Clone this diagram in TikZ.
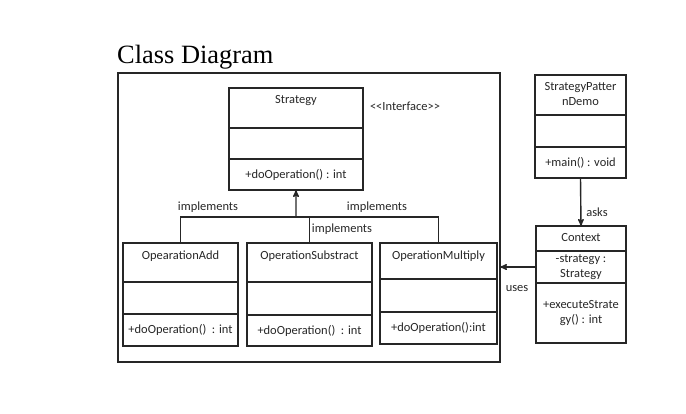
\documentclass[tikz,border=0pt]{standalone}
\usepackage{fontspec}
\setmainfont{Carlito}
\newfontfamily\titlefont{Liberation Serif}
\usetikzlibrary{arrows,positioning}

\begin{document}
\begin{tikzpicture}[>=stealth',x=1bp,y={(0bp,-1bp)},font=\fontsize{12.5}{15}\selectfont,text=black!85]
		\tikzstyle{part}=[draw=black!85,line width=1.4bp,inner sep=0pt,outer sep=0pt,align=center]
		\tikzstyle{cname}=[anchor=north,inner sep=0pt,yshift=-7.5bp,align=center]
		\tikzstyle{line}=[draw=black!85,line width=1.4bp]
		\useasboundingbox (0,0) rectangle (686,413);
		\node[anchor=base west,inner sep=0pt,font=\titlefont\fontsize{26.5}{30}\selectfont,text=black] (T) at (117,63) {Class Diagram};
		\node[part,anchor=north west,minimum width=382bp,minimum height=289bp] (F) at (118,73) {};
		% interface
		\node[part,anchor=north west,minimum width=134bp,minimum height=40bp] (S1) at (229,88) {};
		\node[part,minimum width=134bp,minimum height=31bp]    (S2)[below=0pt of S1] {};
		\node[part,minimum width=134bp,minimum height=31bp]    (S3)[below=0pt of S2] {+doOperation() : int};
		\node[cname] (S) at (S1.north) {Strategy};
		\node (I) at (405,106) {{<}{<}Interface{>}{>}};
		% implementations
		\node[part,anchor=north west,minimum width=115bp,minimum height=39bp] (A1) at (123,243) {};
		\node[part,minimum width=115bp,minimum height=32bp]    (A2)[below=0pt of A1] {};
		\node[part,minimum width=115bp,minimum height=32bp]    (A3)[below=0pt of A2] {+doOperation() \ : int};
		\node[cname] (A) at (A1.north) {OpearationAdd};
		\node[part,anchor=north west,minimum width=125bp,minimum height=39bp] (B1) at (247,243) {};
		\node[part,minimum width=125bp,minimum height=33bp]    (B2)[below=0pt of B1] {};
		\node[part,minimum width=125bp,minimum height=31bp]    (B3)[below=0pt of B2] {+doOperation() \ : int};
		\node[cname] (B) at (B1.north) {OperationSubstract};
		\node[part,anchor=north west,minimum width=117bp,minimum height=36bp] (C1) at (380,243) {};
		\node[part,minimum width=117bp,minimum height=33bp]    (C2)[below=0pt of C1] {};
		\node[part,minimum width=117bp,minimum height=32bp]    (C3)[below=0pt of C2] {+doOperation():int};
		\node[cname] (C) at (C1.north) {OperationMultiply};
		% client side
		\node[part,anchor=north west,minimum width=91bp,minimum height=40bp] (D1) at (535,75) {};
		\node[part,minimum width=91bp,minimum height=32bp]     (D2)[below=0pt of D1] {};
		\node[part,minimum width=91bp,minimum height=31bp]     (D3)[below=0pt of D2] {+main() : void};
		\node[cname] (D) at (D1.north) {StrategyPatter\\nDemo};
		\node[part,anchor=north west,minimum width=90bp,minimum height=25bp] (X1) at (536,226) {};
		\node[part,minimum width=90bp,minimum height=32bp]     (X2)[below=0pt of X1] {-strategy :\\Strategy};
		\node[part,minimum width=90bp,minimum height=60bp]     (X3)[below=0pt of X2] {+executeStrate\\gy() : int};
		\node[cname] (X) at (X1.north) {Context};
		% connectors
		\coordinate (H) at (296,217);
		\path[line]
		(A1.north) |- (C1.north |- H) -- (C1.north)
		(B1.north) -- (B1.north |- H);
		\draw[line,->] (H) -- (S3.south);
		\draw[line,->] (D3.south) -- (X1.north);
		\draw[line,->] (X2.west) -- (X2.west -| F.east);
		\node (L1) at (208,207) {implements};
		\node (L2) at (377,207) {implements};
		\node (L3) at (342,229) {implements};
		\node (L4) at (597,212) {asks};
		\node (L5) at (517,289) {uses};
	\end{tikzpicture}
\end{document}
